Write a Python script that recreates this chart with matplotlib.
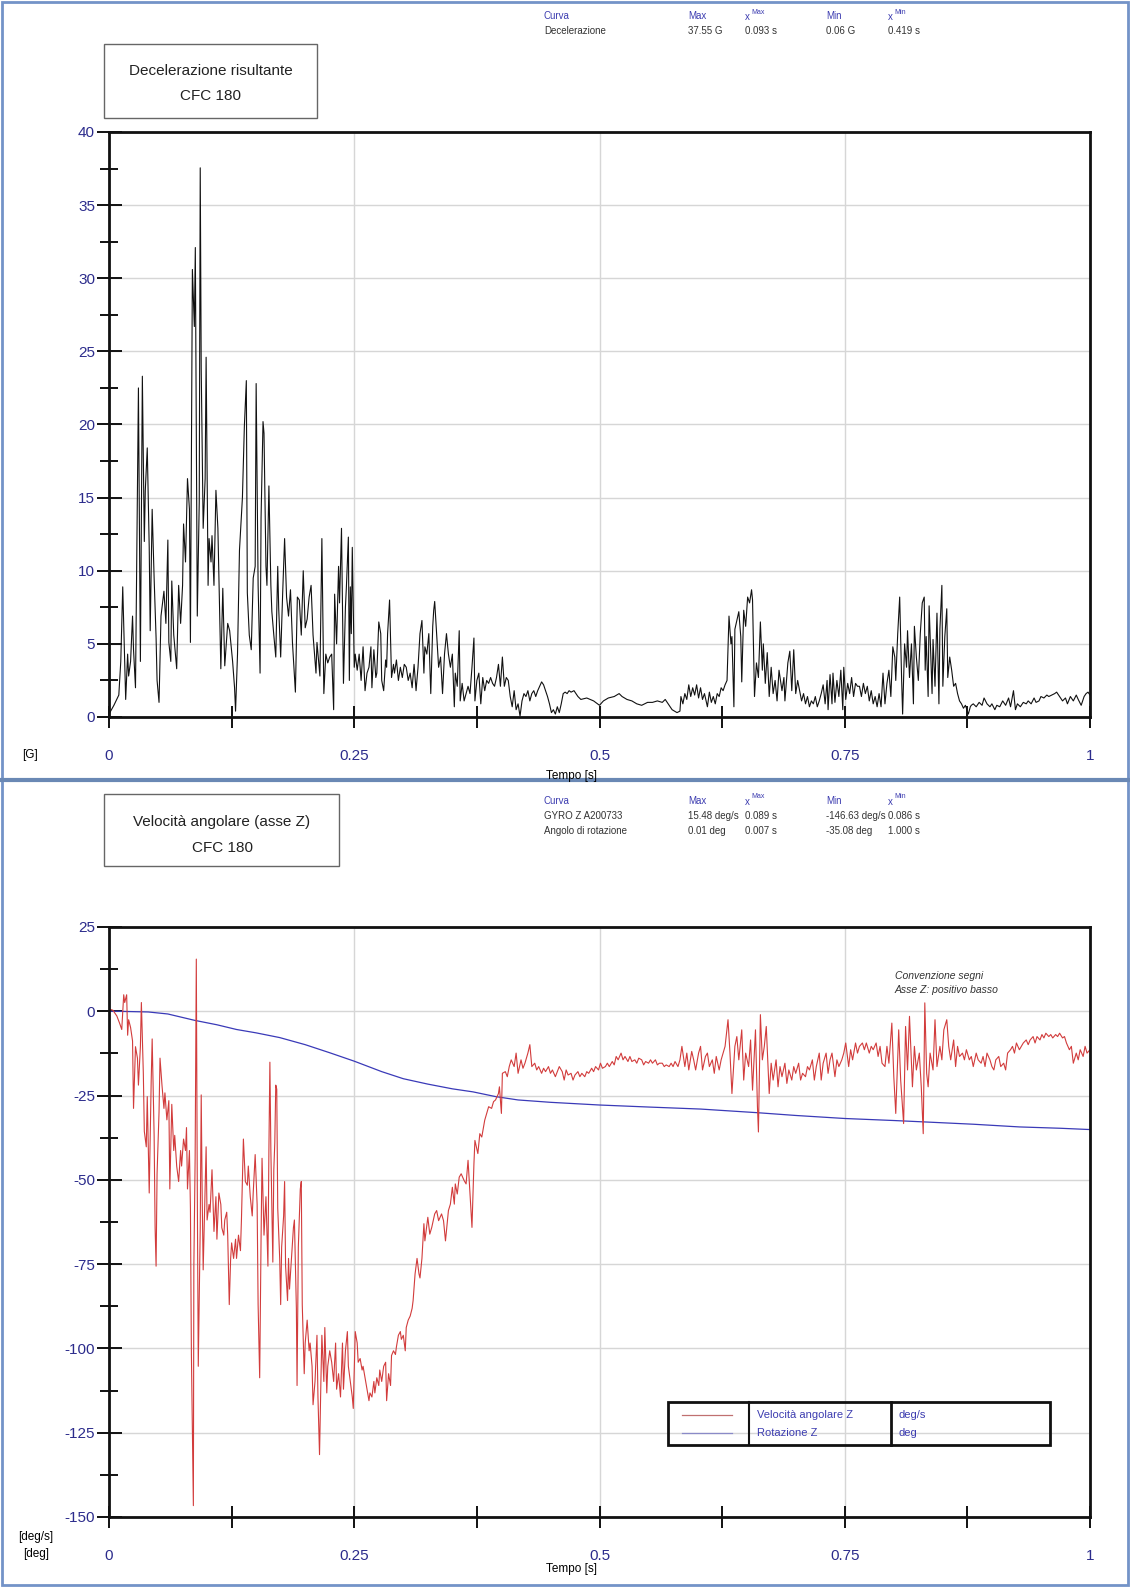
import matplotlib
matplotlib.use("Agg")
import matplotlib.pyplot as plt
from matplotlib.lines import Line2D
from matplotlib.patches import Rectangle

plt.rcParams['font.family'] = ['Liberation Sans', 'DejaVu Sans']
plt.rcParams['axes.unicode_minus'] = False

W, H = 1130, 1587

# ---- data ----
x_ticks = [0, 0.25, 0.5, 0.75, 1]
x_labels = ['0', '0.25', '0.5', '0.75', '1']
x_minor = [0.125, 0.375, 0.625, 0.875]
dec_yticks = [0, 5, 10, 15, 20, 25, 30, 35, 40]
dec_yminor = [2.5, 7.5, 12.5, 17.5, 22.5, 27.5, 32.5, 37.5]
gyro_yticks = [-150, -125, -100, -75, -50, -25, 0, 25]
gyro_yminor = [-137.5, -112.5, -87.5, -62.5, -37.5, -12.5, 12.5]

# decelerazione risultante [G] vs tempo [s]
dec_t = [0.000,0.005,0.010,0.012,0.014,0.017,0.019,0.020,0.022,0.024,
         0.025,0.027,0.030,0.032,0.034,0.036,0.037,0.039,0.041,0.042,
         0.044,0.046,0.048,0.049,0.051,0.053,0.056,0.058,0.060,0.061,
         0.063,0.064,0.066,0.069,0.071,0.073,0.075,0.076,0.078,0.080,
         0.082,0.083,0.085,0.087,0.088,0.090,0.092,0.093,0.094,0.096,
         0.098,0.099,0.101,0.102,0.104,0.105,0.107,0.109,0.111,0.114,
         0.116,0.118,0.121,0.123,0.126,0.128,0.129,0.131,0.133,0.136,
         0.138,0.140,0.141,0.143,0.145,0.147,0.149,0.150,0.152,0.154,
         0.155,0.157,0.158,0.160,0.161,0.163,0.165,0.166,0.168,0.170,
         0.172,0.173,0.175,0.177,0.179,0.181,0.183,0.185,0.187,0.190,
         0.192,0.194,0.196,0.198,0.200,0.202,0.204,0.206,0.208,0.211,
         0.212,0.215,0.217,0.219,0.221,0.223,0.225,0.227,0.229,0.230,
         0.232,0.234,0.235,0.237,0.239,0.241,0.242,0.244,0.245,0.246,
         0.247,0.248,0.250,0.251,0.253,0.255,0.257,0.259,0.261,0.263,
         0.265,0.267,0.268,0.270,0.272,0.273,0.275,0.277,0.278,0.280,
         0.282,0.283,0.284,0.286,0.288,0.290,0.291,0.293,0.295,0.297,
         0.299,0.301,0.303,0.305,0.307,0.309,0.311,0.313,0.315,0.317,
         0.319,0.321,0.322,0.324,0.326,0.328,0.330,0.331,0.332,0.334,
         0.336,0.338,0.340,0.342,0.344,0.346,0.348,0.350,0.352,0.353,
         0.355,0.357,0.358,0.360,0.362,0.364,0.366,0.368,0.370,0.372,
         0.373,0.375,0.377,0.379,0.381,0.383,0.385,0.387,0.389,0.391,
         0.393,0.395,0.397,0.399,0.401,0.403,0.405,0.407,0.409,0.411,
         0.413,0.415,0.417,0.419,0.421,0.423,0.425,0.427,0.429,0.431,
         0.433,0.435,0.437,0.439,0.441,0.443,0.445,0.447,0.449,0.451,
         0.453,0.455,0.457,0.459,0.461,0.463,0.465,0.467,0.469,0.471,
         0.474,0.476,0.478,0.481,0.487,0.494,0.500,0.504,0.509,0.515,
         0.520,0.523,0.528,0.533,0.538,0.543,0.549,0.554,0.559,0.564,
         0.567,0.571,0.574,0.579,0.582,0.583,0.585,0.587,0.589,0.591,
         0.593,0.595,0.597,0.599,0.601,0.603,0.605,0.607,0.610,0.612,
         0.614,0.616,0.618,0.620,0.622,0.624,0.626,0.628,0.630,0.632,
         0.634,0.635,0.637,0.638,0.640,0.642,0.644,0.645,0.647,0.649,
         0.651,0.653,0.655,0.656,0.658,0.660,0.662,0.664,0.666,0.667,
         0.669,0.671,0.673,0.675,0.677,0.679,0.681,0.683,0.686,0.688,
         0.689,0.692,0.694,0.696,0.698,0.700,0.702,0.704,0.706,0.708,
         0.710,0.712,0.714,0.716,0.718,0.720,0.722,0.724,0.726,0.728,
         0.730,0.732,0.733,0.735,0.737,0.738,0.740,0.742,0.744,0.746,
         0.748,0.749,0.751,0.753,0.755,0.757,0.759,0.761,0.763,0.765,
         0.767,0.769,0.771,0.773,0.775,0.777,0.779,0.781,0.783,0.785,
         0.787,0.789,0.791,0.793,0.795,0.797,0.799,0.801,0.802,0.804,
         0.806,0.808,0.809,0.811,0.813,0.814,0.816,0.818,0.820,0.821,
         0.823,0.825,0.827,0.829,0.831,0.832,0.833,0.835,0.836,0.838,
         0.839,0.840,0.842,0.844,0.846,0.847,0.849,0.850,0.852,0.854,
         0.855,0.857,0.859,0.861,0.863,0.865,0.867,0.869,0.871,0.873,
         0.876,0.878,0.879,0.881,0.884,0.887,0.890,0.892,0.895,0.898,
         0.900,0.903,0.905,0.908,0.911,0.914,0.917,0.919,0.922,0.924,
         0.926,0.929,0.932,0.935,0.937,0.940,0.943,0.945,0.948,0.950,
         0.953,0.956,0.958,0.961,0.964,0.966,0.969,0.972,0.975,0.977,
         0.980,0.983,0.986,0.988,0.991,0.994,0.996,0.998,1.000]
dec_g = [0.2,0.8,1.5,3.8,8.9,1.2,4.3,2.8,3.8,6.9,
         4.6,2.0,22.5,3.8,23.3,12.0,15.5,18.4,11.6,5.9,
         14.2,9.5,5.4,2.5,1.0,6.9,8.6,6.4,12.1,5.1,
         3.8,9.3,5.6,3.3,9.0,6.4,9.0,13.2,10.6,16.3,
         14.2,5.1,30.6,26.7,32.1,6.9,14.7,37.55,23.8,12.9,
         16.3,24.6,9.0,12.2,10.6,12.4,9.0,15.5,12.9,3.3,
         8.8,3.5,6.4,5.9,3.8,2.0,0.4,4.3,11.4,15.0,
         19.9,23.0,8.5,5.6,4.6,9.5,10.3,22.8,9.0,3.0,
         13.6,20.2,19.4,10.3,9.0,15.8,9.0,7.2,5.6,4.1,
         10.3,7.4,4.1,8.4,12.2,8.2,6.9,8.7,5.1,1.7,
         8.2,8.0,5.6,10.0,6.1,6.7,8.2,9.0,5.6,3.0,
         5.1,2.8,12.2,1.6,4.3,3.7,4.1,4.3,0.5,8.4,
         5.0,10.3,7.8,12.9,2.3,7.5,8.9,12.3,2.5,8.9,
         5.7,11.6,3.4,4.3,3.2,4.3,2.5,4.8,1.8,3.0,
         3.4,4.8,2.0,4.6,2.7,3.0,6.5,5.7,2.5,1.8,
         3.9,3.4,5.7,8.0,2.7,3.6,3.0,3.9,2.5,3.4,
         2.7,3.6,3.4,2.5,3.0,2.0,3.6,1.8,3.4,5.7,
         6.6,3.0,4.8,4.3,5.7,1.6,6.2,7.3,7.9,5.7,
         3.4,4.1,1.6,4.3,5.7,4.3,3.4,4.3,0.7,3.0,
         2.1,5.9,1.1,2.3,1.1,1.6,2.1,1.6,3.4,5.4,
         1.1,2.5,3.0,0.9,2.7,1.8,2.5,2.3,2.7,2.3,
         2.1,2.7,3.6,2.1,4.1,2.1,2.7,2.5,1.4,0.7,
         1.8,0.5,0.9,0.06,1.1,1.6,1.4,1.8,1.1,1.6,
         1.8,1.4,1.8,2.1,2.4,2.2,1.8,1.4,0.9,0.3,
         0.5,0.2,0.7,0.3,0.9,1.6,1.7,1.6,1.8,1.7,
         1.8,1.6,1.4,1.2,1.3,1.1,0.8,1.1,1.3,1.4,
         1.6,1.4,1.2,1.1,0.9,0.8,1.0,1.0,1.1,1.0,
         1.2,0.8,0.5,0.3,0.4,1.4,0.9,1.6,1.2,2.2,
         1.4,2.0,1.5,2.2,1.3,2.0,1.2,1.6,0.7,1.7,
         1.0,1.4,0.9,1.6,1.4,2.0,1.8,2.2,2.5,6.9,
         5.0,5.5,0.7,6.0,6.6,7.2,5.5,2.4,7.3,6.2,
         8.2,7.8,8.7,8.0,1.4,3.7,2.7,6.5,3.2,5.0,
         2.3,4.4,1.4,3.4,1.6,2.5,1.1,3.2,1.8,2.7,
         1.1,3.7,4.5,1.8,4.6,1.6,2.5,1.8,1.1,1.6,
         0.9,1.4,0.7,1.1,0.9,1.4,0.7,1.1,1.6,2.2,
         0.9,2.5,0.5,2.9,0.9,3.0,1.0,2.5,1.4,3.2,
         0.5,3.4,1.2,2.3,1.6,2.7,1.4,2.3,2.1,2.1,
         1.4,2.3,1.6,2.1,1.1,1.8,0.9,1.4,0.7,1.6,
         0.7,3.0,0.9,2.3,3.2,1.4,4.8,4.1,2.5,5.7,
         8.2,2.5,0.2,5.0,3.4,5.9,2.7,5.0,0.9,6.2,
         4.1,2.5,5.7,7.8,8.2,3.2,5.5,1.4,7.6,3.7,
         1.6,5.3,2.1,7.1,0.9,6.0,9.0,2.1,5.5,7.4,
         2.7,4.1,3.2,2.1,2.3,1.6,1.1,0.9,0.6,0.8,
         0.2,0.7,0.8,0.9,0.7,1.0,0.8,1.3,0.9,0.7,
         0.9,0.5,0.8,0.7,1.1,0.8,1.3,0.7,1.8,0.5,
         0.9,0.7,1.0,0.9,1.1,0.9,1.3,1.0,1.1,1.4,
         1.3,1.5,1.4,1.5,1.6,1.7,1.4,1.1,1.3,0.9,
         1.4,1.1,1.5,1.2,0.8,1.4,1.6,1.7,1.5]

# velocita angolare Z [deg/s] vs tempo [s]
gyro_t = [0.000,0.004,0.008,0.011,0.013,0.015,0.016,0.018,0.019,0.020,
          0.022,0.024,0.025,0.027,0.029,0.030,0.032,0.033,0.035,0.036,
          0.038,0.039,0.041,0.043,0.044,0.046,0.047,0.048,0.049,0.051,
          0.052,0.054,0.056,0.057,0.059,0.061,0.062,0.064,0.066,0.067,
          0.069,0.071,0.073,0.074,0.076,0.078,0.079,0.080,0.082,0.083,
          0.084,0.086,0.0865,0.0878,0.089,0.090,0.091,0.093,0.094,0.095,
          0.096,0.098,0.099,0.100,0.102,0.103,0.105,0.107,0.109,0.110,
          0.112,0.114,0.115,0.117,0.118,0.120,0.121,0.1226,0.124,0.125,
          0.127,0.129,0.130,0.132,0.134,0.135,0.137,0.139,0.141,0.142,
          0.144,0.146,0.147,0.149,0.151,0.152,0.1536,0.155,0.156,0.158,
          0.160,0.162,0.163,0.164,0.165,0.167,0.168,0.169,0.170,0.171,
          0.172,0.174,0.175,0.176,0.178,0.179,0.180,0.182,0.183,0.184,
          0.186,0.188,0.189,0.191,0.1917,0.193,0.195,0.196,0.197,0.199,
          0.200,0.202,0.204,0.205,0.207,0.208,0.210,0.212,0.213,0.2146,
          0.216,0.217,0.219,0.220,0.222,0.223,0.225,0.227,0.229,0.231,
          0.232,0.234,0.236,0.238,0.239,0.241,0.243,0.244,0.246,0.248,
          0.249,0.251,0.253,0.254,0.256,0.258,0.259,0.261,0.263,0.265,
          0.266,0.268,0.270,0.271,0.273,0.275,0.276,0.278,0.280,0.282,
          0.283,0.285,0.287,0.288,0.290,0.292,0.293,0.295,0.297,0.298,
          0.300,0.302,0.303,0.305,0.307,0.309,0.310,0.312,0.314,0.316,
          0.317,0.319,0.321,0.322,0.325,0.327,0.329,0.332,0.334,0.336,
          0.339,0.341,0.343,0.346,0.348,0.350,0.352,0.353,0.355,0.357,
          0.359,0.362,0.364,0.366,0.369,0.370,0.372,0.373,0.376,0.378,
          0.380,0.383,0.385,0.387,0.390,0.392,0.394,0.397,0.398,0.400,
          0.401,0.404,0.406,0.408,0.410,0.413,0.415,0.417,0.420,0.422,
          0.424,0.427,0.429,0.431,0.434,0.436,0.438,0.441,0.443,0.445,
          0.448,0.450,0.452,0.455,0.457,0.459,0.462,0.464,0.466,0.468,
          0.471,0.473,0.475,0.478,0.480,0.482,0.485,0.487,0.489,0.492,
          0.494,0.496,0.499,0.501,0.503,0.506,0.508,0.510,0.513,0.515,
          0.517,0.519,0.522,0.524,0.526,0.529,0.531,0.533,0.536,0.538,
          0.540,0.543,0.545,0.547,0.550,0.552,0.554,0.557,0.559,0.561,
          0.564,0.566,0.568,0.571,0.573,0.575,0.577,0.580,0.582,0.584,
          0.587,0.589,0.591,0.594,0.596,0.598,0.601,0.603,0.605,0.608,
          0.610,0.612,0.615,0.617,0.619,0.622,0.624,0.626,0.628,0.631,
          0.633,0.635,0.638,0.640,0.642,0.645,0.647,0.649,0.652,0.654,
          0.656,0.659,0.661,0.662,0.664,0.666,0.668,0.670,0.673,0.675,
          0.677,0.680,0.682,0.684,0.686,0.689,0.691,0.693,0.696,0.698,
          0.700,0.703,0.705,0.707,0.710,0.712,0.714,0.717,0.719,0.721,
          0.724,0.726,0.728,0.731,0.733,0.735,0.737,0.740,0.742,0.744,
          0.747,0.749,0.751,0.754,0.756,0.758,0.761,0.763,0.765,0.768,
          0.770,0.772,0.775,0.777,0.779,0.782,0.784,0.786,0.788,0.791,
          0.793,0.795,0.798,0.800,0.802,0.805,0.807,0.810,0.812,0.814,
          0.816,0.819,0.821,0.823,0.826,0.828,0.830,0.8316,0.8335,0.835,
          0.837,0.840,0.842,0.844,0.847,0.849,0.851,0.854,0.856,0.858,
          0.861,0.863,0.865,0.867,0.870,0.872,0.874,0.877,0.879,0.881,
          0.884,0.886,0.889,0.891,0.893,0.895,0.898,0.900,0.902,0.904,
          0.907,0.909,0.912,0.914,0.916,0.919,0.921,0.923,0.925,0.928,
          0.930,0.932,0.935,0.937,0.939,0.942,0.944,0.946,0.949,0.951,
          0.953,0.955,0.958,0.960,0.962,0.965,0.967,0.969,0.972,0.974,
          0.976,0.979,0.981,0.983,0.986,0.988,0.990,0.993,0.995,0.997,
          1.000]
gyro_w = [0.7,0.3,-1.4,-3.7,-5.4,4.9,2.6,4.9,-7.1,-2.5,
          -4.8,-8.8,-28.8,-10.5,-13.9,-21.9,-10.5,2.6,-18.5,-35.6,
          -40.2,-25.3,-53.9,-20.8,-8.2,-36.8,-64.2,-75.6,-48.2,-29.9,
          -13.9,-21.9,-28.8,-24.2,-32.2,-26.5,-52.7,-27.6,-41.3,-36.8,
          -45.9,-50.5,-41.3,-45.9,-37.9,-41.3,-34.5,-52.7,-41.3,-58.4,
          -101.8,-146.63,-75.6,-43.6,15.48,-52.7,-105.3,-64.2,-24.8,-55.0,
          -76.7,-52.7,-40.2,-61.9,-57.3,-59.6,-47.0,-65.3,-55.0,-67.6,
          -53.9,-57.3,-64.2,-66.4,-61.9,-59.6,-66.4,-87.0,-73.3,-68.7,
          -73.3,-67.6,-73.3,-66.4,-71.0,-61.9,-37.9,-50.5,-51.6,-45.9,
          -55.0,-60.7,-53.9,-42.5,-57.3,-87.0,-108.7,-67.6,-43.6,-66.4,
          -55.0,-75.6,-41.3,-15.1,-41.3,-74.4,-47.0,-39.0,-21.9,-23.1,
          -58.4,-73.3,-87.0,-69.9,-60.7,-50.5,-75.6,-85.8,-73.3,-82.4,
          -73.3,-64.2,-61.9,-88.1,-111.0,-69.9,-52.7,-50.5,-87.0,-107.5,
          -98.4,-91.6,-100.7,-98.4,-105.3,-116.7,-109.8,-96.1,-114.4,-131.5,
          -109.8,-96.1,-109.8,-93.8,-113.2,-105.3,-100.7,-104.1,-109.8,-98.4,
          -112.1,-107.5,-114.4,-98.4,-112.1,-100.7,-95.0,-105.3,-109.8,-114.4,
          -117.8,-95.0,-98.4,-104.1,-103.0,-106.4,-105.3,-108.7,-112.1,-115.5,
          -113.2,-114.4,-109.8,-113.2,-108.7,-111.0,-106.4,-109.8,-105.3,-104.1,
          -115.5,-107.5,-111.0,-102.1,-100.7,-101.8,-99.5,-96.1,-95.0,-97.3,
          -96.1,-100.7,-93.8,-91.6,-90.4,-88.1,-85.8,-77.9,-73.3,-77.9,
          -79.1,-73.3,-63.0,-68.1,-61.1,-66.1,-64.1,-60.1,-59.1,-62.1,
          -60.1,-62.1,-68.1,-59.1,-57.2,-52.2,-57.2,-51.2,-54.2,-49.2,
          -48.2,-50.2,-51.2,-44.2,-59.1,-64.1,-45.2,-38.3,-42.2,-36.3,
          -37.3,-32.3,-30.3,-28.3,-28.8,-26.8,-26.3,-24.4,-22.4,-30.3,
          -18.4,-17.9,-19.4,-16.4,-14.4,-16.4,-12.4,-18.4,-14.4,-16.9,
          -15.4,-12.4,-9.9,-16.4,-15.4,-17.4,-16.4,-18.4,-16.9,-17.9,
          -16.4,-18.4,-17.4,-19.4,-17.9,-16.4,-17.9,-20.4,-17.4,-18.9,
          -18.4,-20.4,-18.9,-17.9,-19.4,-18.4,-19.4,-17.9,-18.4,-16.9,
          -17.9,-16.4,-17.4,-15.4,-16.9,-16.4,-15.4,-16.4,-14.9,-15.9,
          -13.4,-14.4,-12.4,-14.4,-13.4,-14.9,-13.4,-14.9,-14.4,-15.4,
          -13.9,-14.4,-15.9,-14.9,-15.4,-14.4,-15.4,-14.4,-15.9,-15.4,
          -15.4,-16.4,-15.9,-16.4,-15.4,-16.4,-14.9,-16.4,-14.4,-10.4,
          -16.4,-12.4,-17.4,-11.9,-14.4,-17.4,-12.4,-10.4,-17.4,-13.4,
          -12.4,-16.4,-14.4,-18.4,-13.4,-17.4,-14.4,-12.4,-10.4,-2.5,
          -12.4,-24.4,-10.4,-7.5,-14.4,-5.5,-20.4,-12.4,-16.4,-8.5,
          -23.4,-5.5,-28.3,-35.8,-1.0,-14.4,-10.4,-4.5,-24.4,-15.4,
          -20.4,-14.4,-22.4,-16.4,-19.4,-15.4,-21.4,-17.4,-20.4,-16.4,
          -18.4,-15.4,-20.4,-18.4,-19.4,-16.4,-17.4,-14.4,-20.4,-16.4,
          -12.4,-20.4,-15.4,-12.4,-18.4,-14.4,-12.4,-19.4,-14.4,-16.4,
          -14.4,-12.4,-9.4,-16.4,-11.4,-14.4,-9.4,-12.4,-10.4,-9.4,
          -11.4,-9.4,-12.4,-10.4,-11.4,-9.4,-13.4,-10.4,-15.4,-16.4,
          -10.4,-15.4,-3.5,-19.4,-30.3,-5.5,-20.4,-33.3,-4.5,-17.4,
          -1.5,-22.4,-10.4,-17.4,-12.4,-22.4,-36.3,2.5,-18.4,-22.4,
          -12.4,-17.4,-2.5,-16.4,-10.4,-14.4,-5.5,-2.5,-10.4,-14.4,
          -8.5,-16.4,-10.4,-13.4,-12.4,-14.4,-11.4,-14.4,-13.4,-16.4,
          -12.4,-14.4,-15.4,-13.4,-16.4,-12.4,-14.4,-16.4,-17.4,-14.4,
          -13.4,-16.4,-15.4,-17.4,-12.4,-11.4,-10.4,-12.4,-9.4,-11.4,
          -10.4,-9.4,-8.5,-9.9,-8.5,-7.5,-9.4,-7.5,-8.5,-6.9,
          -7.9,-6.5,-7.5,-6.9,-7.9,-6.9,-7.5,-6.5,-7.9,-7.5,
          -9.4,-11.4,-10.4,-15.4,-12.4,-14.4,-11.4,-13.4,-10.4,-12.4,
          -11.4]

# rotazione Z [deg] vs tempo [s]
rot_t = [0, 0.007, 0.04, 0.06, 0.0875, 0.11, 0.13, 0.15, 0.174, 0.2,
         0.225, 0.25, 0.278, 0.3, 0.325, 0.35, 0.371, 0.394, 0.417, 0.45,
         0.5, 0.55, 0.603, 0.662, 0.7, 0.75, 0.8, 0.83, 0.881, 0.928,
         0.97, 1.0]
rot_deg = [0, 0.01, -0.2, -0.8, -2.7, -4.0, -5.4, -6.4, -7.8, -9.9,
           -12.3, -14.8, -17.9, -20.0, -21.6, -23.0, -23.9, -25.3, -26.3, -27.0,
           -27.8, -28.4, -29.0, -30.1, -30.9, -31.8, -32.4, -32.8, -33.5, -34.3,
           -34.7, -35.08]

stat_cols = ['Curva', 'Max', 'Min']
dec_stats = ['Decelerazione', '37.55 G', '0.093 s', '0.06 G', '0.419 s']
gyro_stats = ['GYRO Z A200733', '15.48 deg/s', '0.089 s', '-146.63 deg/s', '0.086 s']
rot_stats = ['Angolo di rotazione', '0.01 deg', '0.007 s', '-35.08 deg', '1.000 s']

NAVY = '#2c2c8c'
HEAD = '#3c3cb0'
GRID = '#d6d6d6'
RED = '#d23c3c'
BLUE = '#3a3ab8'
FRAME = '#7393c8'

fig = plt.figure(figsize=(W / 100, H / 100), dpi=100)


def box(x0, y0, x1, y1):
    # pixel box (top-left origin) -> figure fraction
    return [x0 / W, 1 - y1 / H, (x1 - x0) / W, (y1 - y0) / H]


def ftext(px, py, s, **kw):
    fig.text(px / W, 1 - py / H, s, **kw)


def style(ax, yt, ym):
    ax.set_xlim(0, 1)
    ax.set_ylim(yt[0], yt[-1])
    ax.set_xticks(x_ticks)
    ax.set_xticklabels(x_labels)
    ax.set_xticks(x_minor, minor=True)
    ax.set_yticks(yt)
    ax.set_yticks(ym, minor=True)
    ax.grid(True, which='major', color=GRID, lw=1)
    ax.set_axisbelow(True)
    for s in ax.spines.values():
        s.set_linewidth(2)
        s.set_color('#111111')
    ax.tick_params(which='both', direction='inout', color='#111111', width=1.4,
                   labelcolor=NAVY, labelsize=11)
    ax.tick_params(axis='y', which='major', length=18, pad=1)
    ax.tick_params(axis='y', which='minor', length=13)
    ax.tick_params(axis='x', which='both', length=16, pad=15)


# top panel
ax1 = fig.add_axes(box(109, 132, 1090, 717))
style(ax1, dec_yticks, dec_yminor)
ax1.plot(dec_t, dec_g, color='#111111', lw=0.8)

# bottom panel
ax2 = fig.add_axes(box(109, 927, 1090, 1517))
style(ax2, gyro_yticks, gyro_yminor)
ax2.plot(rot_t, rot_deg, color=BLUE, lw=0.9)
ax2.plot(gyro_t, gyro_w, color=RED, lw=0.8)
ax2.text(0.801, 0.905, 'Convenzione segni\nAsse Z: positivo basso', transform=ax2.transAxes,
         fontsize=7.5, style='italic', color='#333333', va='center', linespacing=1.6)

# units / axis titles
ftext(30, 755, '[G]', fontsize=8.5, ha='center', va='center')
ftext(572, 776, 'Tempo [s]', fontsize=8.5, ha='center', va='center')
ftext(36, 1537, '[deg/s]', fontsize=8.5, ha='center', va='center')
ftext(36, 1554, '[deg]', fontsize=8.5, ha='center', va='center')
ftext(572, 1569, 'Tempo [s]', fontsize=8.5, ha='center', va='center')

# title boxes
fig.add_artist(Rectangle((104 / W, 1 - 118 / H), 213 / W, 74 / H, transform=fig.transFigure,
                         fill=False, ec='#666666', lw=1))
ftext(211, 71, 'Decelerazione risultante', fontsize=11, ha='center', va='center', color='#222222')
ftext(211, 96, 'CFC 180', fontsize=11, ha='center', va='center', color='#222222')
fig.add_artist(Rectangle((104 / W, 1 - 866 / H), 235 / W, 72 / H, transform=fig.transFigure,
                         fill=False, ec='#666666', lw=1))
ftext(222, 822, 'Velocità angolare (asse Z)', fontsize=11, ha='center', va='center', color='#222222')
ftext(222, 848, 'CFC 180', fontsize=11, ha='center', va='center', color='#222222')

# statistics header
col_x = [544, 688, 745, 826, 888]


def header(y):
    ftext(col_x[0], y, stat_cols[0], fontsize=7, color=HEAD, va='center')
    ftext(col_x[1], y, stat_cols[1], fontsize=7, color=HEAD, va='center')
    ftext(col_x[3], y, stat_cols[2], fontsize=7, color=HEAD, va='center')
    for cx, sup in [(col_x[2], 'Max'), (col_x[4], 'Min')]:
        ftext(cx, y + 1, 'x', fontsize=7, color=HEAD, va='center')
        ftext(cx + 6, y - 4, sup, fontsize=5, color=HEAD, va='center')


def row(y, vals):
    for cx, v in zip(col_x, vals):
        ftext(cx, y, v, fontsize=7, color='#333333', va='center')


header(16)
row(31, dec_stats)
header(801)
row(816, gyro_stats)
row(831, rot_stats)

# legend table
lax = fig.add_axes(box(668, 1402, 1050, 1445))
lax.set_xlim(0, 382)
lax.set_ylim(43, 0)
lax.axis('off')
lax.add_patch(Rectangle((0, 0), 382, 43, fill=False, ec='#111111', lw=2, clip_on=False))
lax.plot([81, 81], [0, 43], color='#111111', lw=1.5, clip_on=False)
lax.plot([223, 223], [0, 43], color='#111111', lw=2, clip_on=False)
lax.plot([14, 64], [13, 13], color='#c07070', lw=0.9)
lax.plot([14, 64], [31, 31], color='#8a8ac8', lw=0.9)
lax.text(89, 13, 'Velocità angolare Z', fontsize=8, color=HEAD, va='center')
lax.text(89, 31, 'Rotazione Z', fontsize=8, color=HEAD, va='center')
lax.text(231, 13, 'deg/s', fontsize=8, color=HEAD, va='center')
lax.text(231, 31, 'deg', fontsize=8, color=HEAD, va='center')

# page frame and separator
fig.add_artist(Rectangle((2 / W, 2 / H), (W - 4) / W, (H - 4) / H, transform=fig.transFigure,
                         fill=False, ec=FRAME, lw=2))
fig.add_artist(Line2D([2 / W, 1 - 2 / W], [1 - 780 / H, 1 - 780 / H], transform=fig.transFigure,
                      color='#6a88b4', lw=3))

fig.savefig('out.png', dpi=100)
